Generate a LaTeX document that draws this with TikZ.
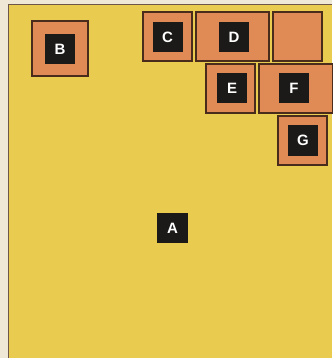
\documentclass[tikz,border=0pt]{standalone}
\usepackage{fontspec}
\setmainfont{Liberation Sans}
\definecolor{cream}{HTML}{EFE8D6}
\definecolor{yel}{HTML}{E9CB50}
\definecolor{ora}{HTML}{E08A55}
\definecolor{brd}{HTML}{4A2C1C}
\definecolor{blk}{HTML}{1C1A18}
\begin{document}
\begin{tikzpicture}[x=1pt,y=-1pt,
  obox/.style={draw=brd,line width=1.6pt,fill=ora,inner sep=0pt,minimum height=49pt},
  lbl/.style={fill=blk,text=white,inner sep=0pt,minimum width=30pt,minimum height=30pt,font=\bfseries\fontsize{15}{15}\selectfont}]
\useasboundingbox (0,0) rectangle (332,358);
\fill[cream] (0,0) rectangle (332,358);
\fill[yel] (8,5) rectangle (332,358);
\draw[brd!80,line width=1pt] (8,358) -- (8,5) -- (332,5);
% orange boxes
\node[obox,minimum width=56pt,minimum height=55pt] (bb) at (60,48.5) {};
\node[obox,minimum width=49pt] (cb) at (167.5,36.5) {};
\node[obox,minimum width=73pt] (db) at (232.5,36.5) {};
\node[obox,minimum width=49pt] (hb) at (297.5,36.5) {};
\node[obox,minimum width=49pt] (eb) at (230.5,88.5) {};
\node[obox,minimum width=74pt] (fb) at (296,88.5) {};
\node[obox,minimum width=49pt] (gb) at (302.5,140.5) {};
% labels
\node[lbl] (B) at (60,49) {B};
\node[lbl] (C) at (167.5,37) {C};
\node[lbl] (D) at (234,37) {D};
\node[lbl] (E) at (232,88.5) {E};
\node[lbl] (F) at (294,88.5) {F};
\node[lbl] (G) at (303,140.5) {G};
\node[lbl,minimum width=31pt] (A) at (172.5,228) {A};
\end{tikzpicture}
\end{document}
